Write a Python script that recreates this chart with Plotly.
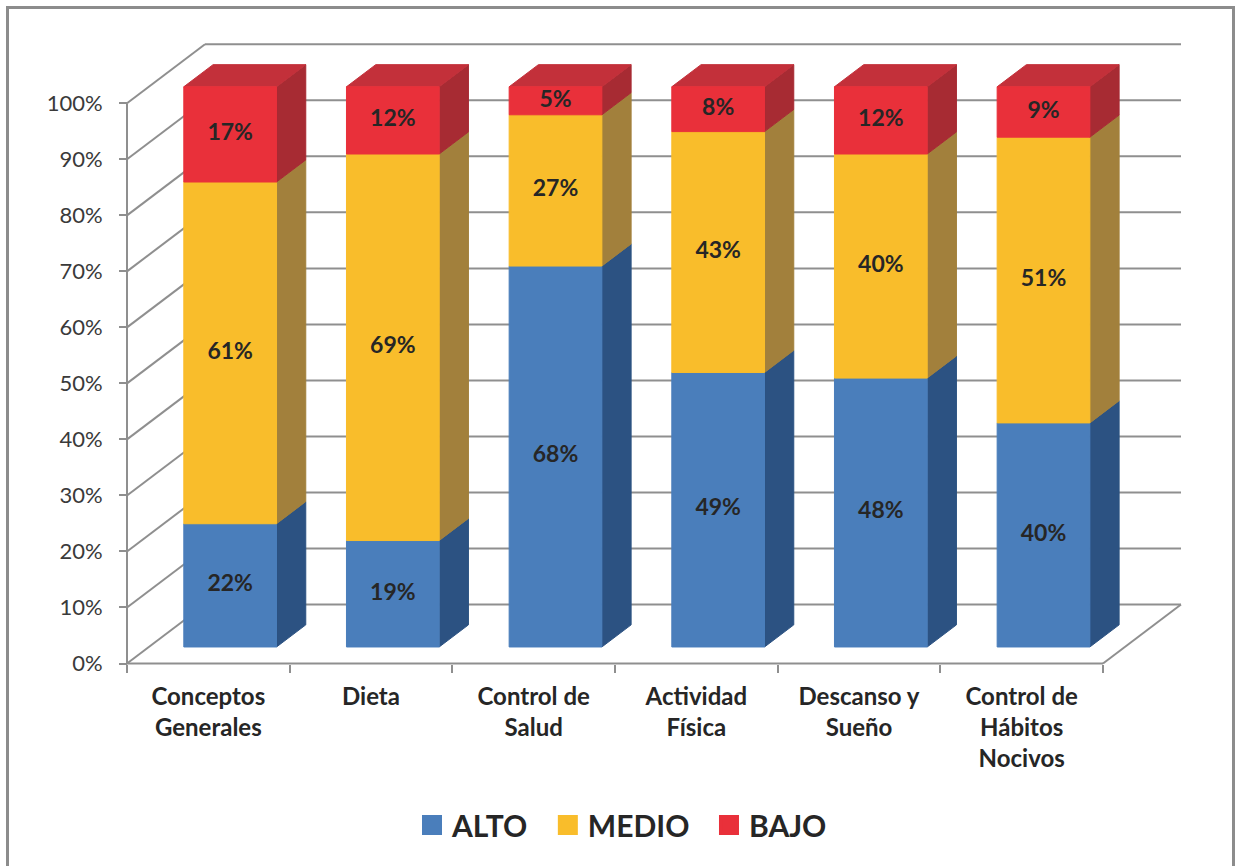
import plotly.graph_objects as go

# ---- data ----
categorias = ["Conceptos<br>Generales", "Dieta", "Control de<br>Salud",
              "Actividad<br>Física", "Descanso y<br>Sueño",
              "Control de<br>Hábitos<br>Nocivos"]
alto = [22, 19, 68, 49, 48, 40]
medio = [61, 69, 27, 43, 40, 51]
bajo = [17, 12, 5, 8, 12, 9]
niveles = ["ALTO", "MEDIO", "BAJO"]
ticks_y = [0, 10, 20, 30, 40, 50, 60, 70, 80, 90, 100]

series = [alto, medio, bajo]

# ---- styling ----
FONT = "Lato"
TXT = "#262626"
GRID = "#8f8f8f"
front_col = ["#4a7ebb", "#f9bd2b", "#e9303a"]
side_col = ["#2c5282", "#a2803c", "#a72b33"]
top_col = ["#3d6aa0", "#d9a326", "#c3303a"]

# ---- geometry of the 3-D box (figure pixels) ----
W, H = 1240, 866
X0_PX, X1_PX = 127, 1103      # front-left / front-right edge of the floor
Y0_PX, Y100_PX = 663.5, 103.3  # 0 % and 100 % on the front plane
DEPTH_PX = (78, -59)          # vector from front plane to back wall
n = len(categorias)
sx = (X1_PX - X0_PX) / n
sy = (Y0_PX - Y100_PX) / 100.0
x_range = [-0.5 - X0_PX / sx, -0.5 + (W - X0_PX) / sx]
y_range = [-(H - Y0_PX) / sy, Y0_PX / sy]


def off(t):
    """Depth offset (data units) for a fraction t of the box depth."""
    return DEPTH_PX[0] * t / sx, -DEPTH_PX[1] * t / sy


BAR_W = 0.57
T_FRONT, T_BACK = 0.28, 0.655
xl, xr = -0.5, n - 0.5
bdx, bdy = off(1.0)

fig = go.Figure()

# walls, floor edges and front axis lines
gx, gy = [], []
for v in ticks_y:
    gx += [xl + bdx, xr + bdx, None]          # back wall gridline
    gy += [v + bdy, v + bdy, None]
    gx += [xl, xl + bdx, None]                # side wall gridline
    gy += [v, v + bdy, None]
gx += [xr, xr + bdx, None]                    # floor right edge
gy += [0, bdy, None]
gx += [xl, xl, None, xl, xr]                  # front axis lines
gy += [0, ticks_y[-1], None, 0, 0]
fig.add_trace(go.Scatter(x=gx, y=gy, mode="lines", hoverinfo="skip",
                         line=dict(color=GRID, width=2), showlegend=False))

fx, fy = off(T_FRONT)
ex, ey = off(T_BACK)

faces = {i: {"front": ([], []), "side": ([], []), "top": ([], [])}
         for i in range(len(series))}
lab_x, lab_y, lab_t = [], [], []

for k in range(n):
    base = 0
    for i, s in enumerate(series):
        v = s[k]
        y0, y1 = base, base + v
        x0, x1 = k - BAR_W / 2 + fx, k + BAR_W / 2 + fx
        # front face
        px, py = faces[i]["front"]
        px += [x0, x1, x1, x0, x0, None]
        py += [y0 + fy, y0 + fy, y1 + fy, y1 + fy, y0 + fy, None]
        # right side face
        px, py = faces[i]["side"]
        px += [x1, x1 - fx + ex, x1 - fx + ex, x1, x1, None]
        py += [y0 + fy, y0 + ey, y1 + ey, y1 + fy, y0 + fy, None]
        # top face on the last segment
        if i == len(series) - 1:
            px, py = faces[i]["top"]
            px += [x0, x1, x1 - fx + ex, x0 - fx + ex, x0, None]
            py += [y1 + fy, y1 + fy, y1 + ey, y1 + ey, y1 + fy, None]
        lab_x.append(k + fx)
        lab_y.append(base + v / 2 + fy)
        lab_t.append(f"{v}%")
        base = y1

for i in range(len(series)):
    for kind, col in (("side", side_col[i]), ("top", top_col[i]),
                      ("front", front_col[i])):
        px, py = faces[i][kind]
        if not px:
            continue
        fig.add_trace(go.Scatter(x=px, y=py, mode="lines", fill="toself",
                                 fillcolor=col, line=dict(color=col, width=1),
                                 hoverinfo="skip", showlegend=False))

fig.add_trace(go.Scatter(x=lab_x, y=lab_y, text=lab_t, mode="text",
                         textfont=dict(family=FONT, size=23, color=TXT,
                                       weight="bold"),
                         hoverinfo="skip", showlegend=False))

# legend entries
for i, name in enumerate(niveles):
    fig.add_trace(go.Scatter(x=[None], y=[None], mode="markers",
                             name=name + "\u00a0\u00a0",
                             marker=dict(symbol="square", size=16,
                                         color=front_col[i],
                                         line=dict(color=front_col[i],
                                                   width=4))))

fig.update_layout(
    width=W, height=H,
    margin=dict(l=0, r=0, t=0, b=0),
    paper_bgcolor="white", plot_bgcolor="white",
    font=dict(family=FONT, color=TXT),
    xaxis=dict(range=x_range, domain=[0, 1], anchor="free",
               position=(H - Y0_PX) / H,
               tickmode="array", tickvals=list(range(n)), ticktext=categorias,
               ticks="", showgrid=False, zeroline=False, showline=False,
               tickfont=dict(family=FONT, size=24, color=TXT, weight="bold"),
               ticklabelstandoff=16,
               minor=dict(tickmode="array",
                          tickvals=[k - 0.5 for k in range(n + 1)],
                          ticks="outside", ticklen=8, tickwidth=2,
                          tickcolor=GRID, showgrid=False),
               fixedrange=True),
    yaxis=dict(range=y_range, domain=[0, 1], anchor="free",
               position=X0_PX / W,
               tickmode="array", tickvals=ticks_y,
               ticktext=[f"{v}%" for v in ticks_y],
               ticks="outside", ticklen=8, tickwidth=2, tickcolor=GRID,
               showgrid=False, zeroline=False, showline=False,
               tickfont=dict(family=FONT, size=22, color="#3a3a3a"),
               ticklabelstandoff=12, fixedrange=True),
    legend=dict(orientation="h", x=412 / W, xanchor="left",
                y=(H - 825) / H, yanchor="middle",
                font=dict(family=FONT, size=30, color=TXT, weight="bold"),
                bgcolor="rgba(0,0,0,0)"),
    shapes=[dict(type="rect", xref="paper", yref="paper",
                 x0=7.5 / W, x1=1233.5 / W, y0=-0.05, y1=1 - 7.5 / H,
                 line=dict(color="#8c8c8c", width=3))],
)

fig.write_html("out.html")
